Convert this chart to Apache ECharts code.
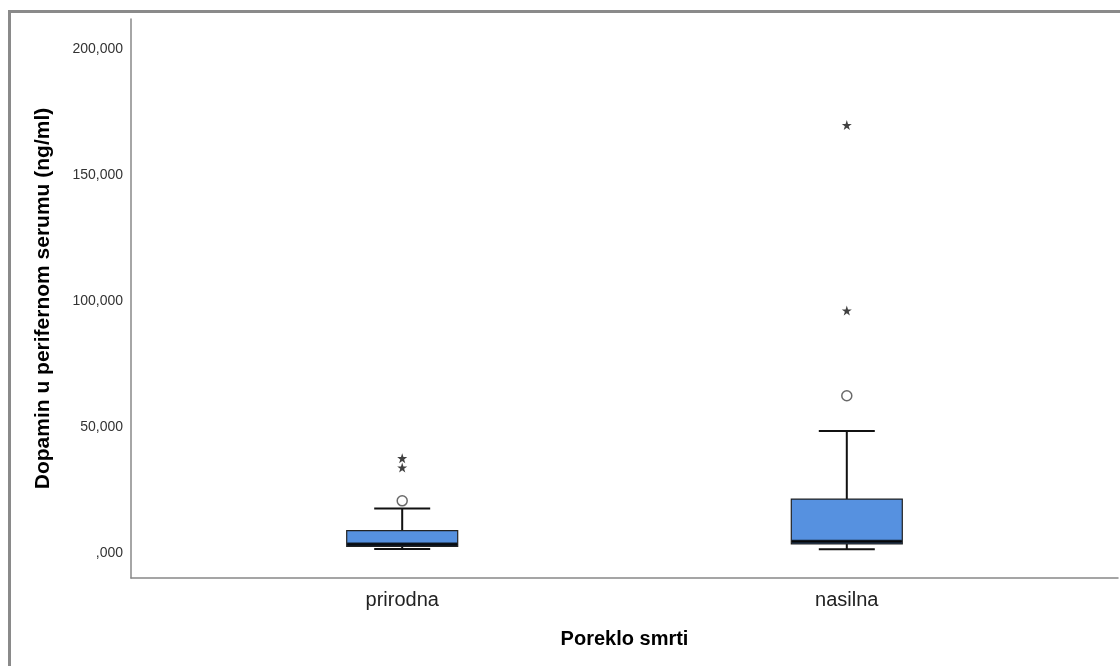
<!DOCTYPE html>
<html>
<head>
<meta charset="utf-8">
<script src="https://cdn.jsdelivr.net/npm/echarts@6/dist/echarts.min.js"></script>
<style>
html,body{margin:0;padding:0;background:#fff;}
#chart{width:1120px;height:666px;}
</style>
</head>
<body>
<div id="chart"></div>
<script>
// ---- data (ng/ml) ----
const categories = ['prirodna', 'nasilna'];
const categoryPos = [0, 1];
// [min whisker, Q1, median, Q3, max whisker]
const boxPrirodna = [1.6, 2.6, 3.5, 8.85, 17.7];
const boxNasilna = [1.5, 3.6, 4.6, 21.4, 48.4];
// mild outliers (circles) and extreme outliers (stars)
const circlePrirodna = [20.7];
const starPrirodna = [33.9, 37.6];
const circleNasilna = [62.4];
const starNasilna = [96.2, 169.8];
const yTicks = [0, 50, 100, 150, 200];

const boxes = [boxPrirodna, boxNasilna];
const circles = [circlePrirodna, circleNasilna];
const stars = [starPrirodna, starNasilna];

// whiskers drawn with a narrow collapsed box (caps half as wide as the box)
const whiskerData = boxes.map((b, i) => [categoryPos[i], b[0], b[2], b[2], b[2], b[4]]);
const bodyData = boxes.map((b, i) => [categoryPos[i], b[1], b[1], b[2], b[3], b[3]]);
const medianData = boxes.map((b, i) => [categoryPos[i], b[2]]);
const circleData = [];
circles.forEach((arr, i) => arr.forEach(v => circleData.push([categoryPos[i], v])));
const starData = [];
stars.forEach((arr, i) => arr.forEach(v => starData.push([categoryPos[i], v])));

const STAR = 'path://M50,0 L61.8,35.4 L99,35.4 L68.9,57.3 L80.3,92.7 L50,70.8 L19.7,92.7 L31.1,57.3 L1,35.4 L38.2,35.4 Z';
const FONT = '"Liberation Sans", Arial, sans-serif';

function fmtY(v) {
  let s = Number(v).toFixed(3).replace('.', ',');
  if (s.startsWith('0,')) s = s.slice(1);
  return s;
}

const chart = echarts.init(document.getElementById('chart'), null, {renderer: 'canvas'});
chart.setOption({
  animation: false,
  backgroundColor: '#fff',
  graphic: [{
    type: 'rect',
    shape: {x: 9.5, y: 11.5, width: 2000, height: 2000},
    style: {fill: 'none', stroke: '#8a8a8a', lineWidth: 3},
    silent: true, z: 100
  }],
  grid: {left: 131, right: 2, top: 19, bottom: 88, containLabel: false, outerBoundsMode: 'none'},
  xAxis: [{
    type: 'value', min: -0.61, max: 1.61,
    axisLine: {show: true, onZero: false, lineStyle: {color: '#888', width: 1.5}},
    axisTick: {show: false},
    splitLine: {show: false},
    axisLabel: {
      customValues: categoryPos,
      formatter: v => categories[categoryPos.indexOf(Math.round(v))] || '',
      fontFamily: FONT, fontSize: 20, color: '#222', margin: 12
    },
    name: 'Poreklo smrti', nameLocation: 'middle', nameGap: 51,
    nameTextStyle: {fontFamily: FONT, fontSize: 20, fontWeight: 'bold', color: '#000'}
  }, {
    type: 'value', min: -0.61, max: 1.61, show: false,
    splitLine: {show: false}
  }],
  yAxis: {
    type: 'value', min: -9.92, max: 211.9,
    axisLine: {show: true, onZero: false, lineStyle: {color: '#888', width: 1.5}},
    axisTick: {show: false},
    splitLine: {show: false},
    axisLabel: {
      customValues: yTicks, formatter: fmtY,
      fontFamily: FONT, fontSize: 14, color: '#333', margin: 8
    },
    name: 'Dopamin u perifernom serumu (ng/ml)', nameLocation: 'middle', nameGap: 77,
    nameTextStyle: {fontFamily: FONT, fontSize: 21, fontWeight: 'bold', color: '#000'}
  },
  series: [{
    type: 'boxplot', xAxisIndex: 1, z: 2,
    boxWidth: [56, 56],
    itemStyle: {color: '#5691E0', borderColor: '#111', borderWidth: 2},
    data: whiskerData
  }, {
    type: 'boxplot', xAxisIndex: 0, z: 3,
    boxWidth: [111, 111],
    itemStyle: {color: '#5691E0', borderColor: '#222', borderWidth: 1.2},
    data: bodyData
  }, {
    type: 'scatter', z: 4,
    symbol: 'rect', symbolSize: [110, 3.5],
    itemStyle: {color: '#000'},
    data: medianData
  }, {
    type: 'scatter', z: 5,
    symbol: 'circle', symbolSize: 10,
    itemStyle: {color: '#fff', borderColor: '#444', borderWidth: 1.5},
    data: circleData
  }, {
    type: 'scatter', z: 5,
    symbol: STAR, symbolSize: 10,
    itemStyle: {color: '#111'},
    data: starData
  }]
});
</script>
</body>
</html>
